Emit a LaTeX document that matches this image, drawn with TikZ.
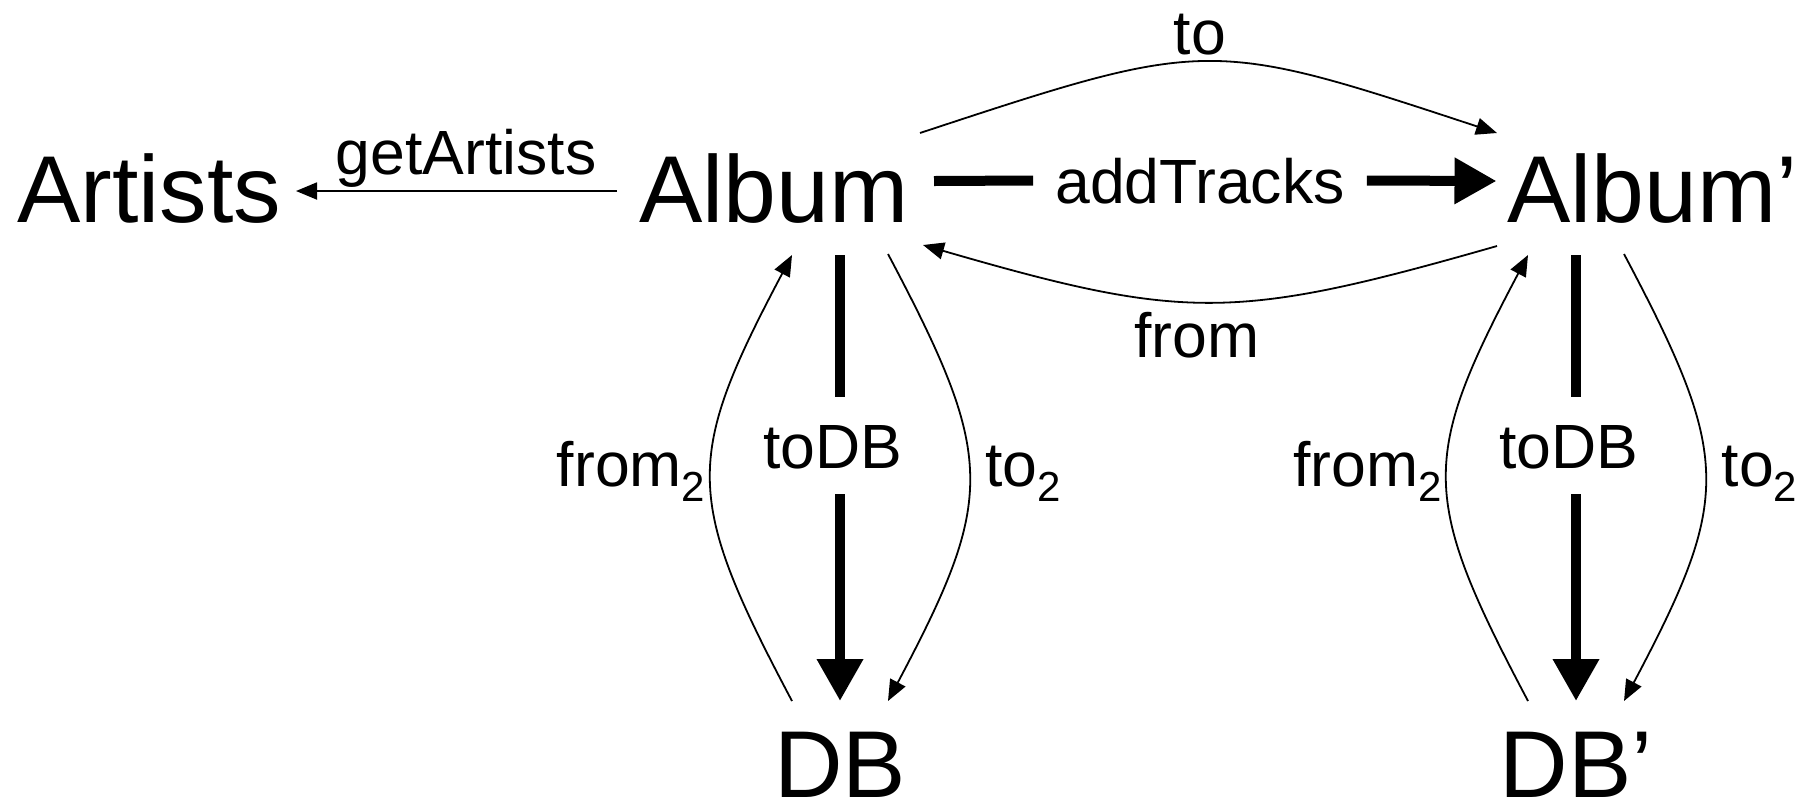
\documentclass[tikz,border=0pt]{standalone}
\usepackage{fontspec}
\setmainfont{Liberation Sans}
\usetikzlibrary{arrows.meta,calc}
% lowered index digit used in the labels from_2 and to_2
\newcommand{\lowtwo}{\raisebox{-15pt}{\fontsize{42}{42}\selectfont 2}}
\begin{document}
\begin{tikzpicture}[x=1pt,y=-1pt,
  big/.style={font=\fontsize{95}{95}\selectfont, inner sep=0pt, anchor=base},
  lbl/.style={font=\fontsize{62.5}{62.5}\selectfont, inner sep=0pt, anchor=base},
  cut/.style={text height=45pt, text depth=0pt},
  link/.style={line width=1.8pt, -{Triangle[length=21pt,width=17pt]}},
  heavy/.style={line width=10pt},
  heavyarrow/.style={line width=10pt, -{Triangle[length=42pt,width=44pt]}},
]
\useasboundingbox (0,0) rectangle (1811,807);

% objects
\node[big] (artists) at (149,222)    {Artists};
\node[big] (album)   at (774,222)    {Album};
\node[big] (album2)  at (1652.5,222) {Album’};
\node[big] (db)      at (840,797)    {DB};
\node[big] (db2)     at (1576,797)   {DB’};

% morphism labels
\node[lbl] (getart)  at (466,174)  {getArtists};
\node[lbl] (tolbl)   at (1200,54)  {to};
\node[lbl] (fromlbl) at (1197,357) {from};
\node[lbl, cut, inner xsep=22pt] (addtr) at (1200,203) {addTracks};
\node[lbl, cut, inner ysep=26pt] (todb)  at (833,468)  {toDB};
\node[lbl, cut, inner ysep=26pt] (todb2) at (1569,468) {toDB};
\node[lbl] (fromtwo)  at (631,486)    {from\lowtwo};
\node[lbl] (totwo)    at (1023,486)   {to\lowtwo};
\node[lbl] (fromtwob) at (1367.5,486) {from\lowtwo};
\node[lbl] (totwob)   at (1759.5,486) {to\lowtwo};

% getArtists
\draw[link] ($(album.base)+(-157,-31)$) -- ($(artists.base)+(147,-31)$);

% addTracks
\draw[heavy] ($(album.base)+(160,-41)$) -- (addtr.west);
\draw[heavyarrow] (addtr.east) -- ($(album2.base)+(-156,-41)$);

% to / from between the two albums
\draw[link] ($(album.base)+(146,-89)$) .. controls +(288,-95) and +(-288,-95) .. ($(album2.base)+(-155.5,-89)$);
\draw[link] ($(album2.base)+(-155.5,24)$) .. controls +(-262,75) and +(262,76) .. ($(album.base)+(149,23)$);

% Album <-> DB
\draw[heavy] ($(db.base |- album.base)+(0,33)$) -- (todb.north -| db.base);
\draw[heavyarrow] (todb.south -| db.base) -- ($(db.base)+(0,-96)$);
\draw[link] ($(db.base)+(-48,-96)$) .. controls +(-108,-204) and +(-108,204) .. ($(db.base |- album.base)+(-48,33)$);
\draw[link] ($(db.base |- album.base)+(48,32)$) .. controls +(108,204) and +(108,-204) .. ($(db.base)+(48,-96)$);

% Album' <-> DB'
\draw[heavy] ($(db2.base |- album2.base)+(0,33)$) -- (todb2.north -| db2.base);
\draw[heavyarrow] (todb2.south -| db2.base) -- ($(db2.base)+(0,-96)$);
\draw[link] ($(db2.base)+(-48,-96)$) .. controls +(-108,-204) and +(-108,204) .. ($(db2.base |- album2.base)+(-48,33)$);
\draw[link] ($(db2.base |- album2.base)+(48,32)$) .. controls +(108,204) and +(108,-204) .. ($(db2.base)+(48,-96)$);
\end{tikzpicture}
\end{document}
